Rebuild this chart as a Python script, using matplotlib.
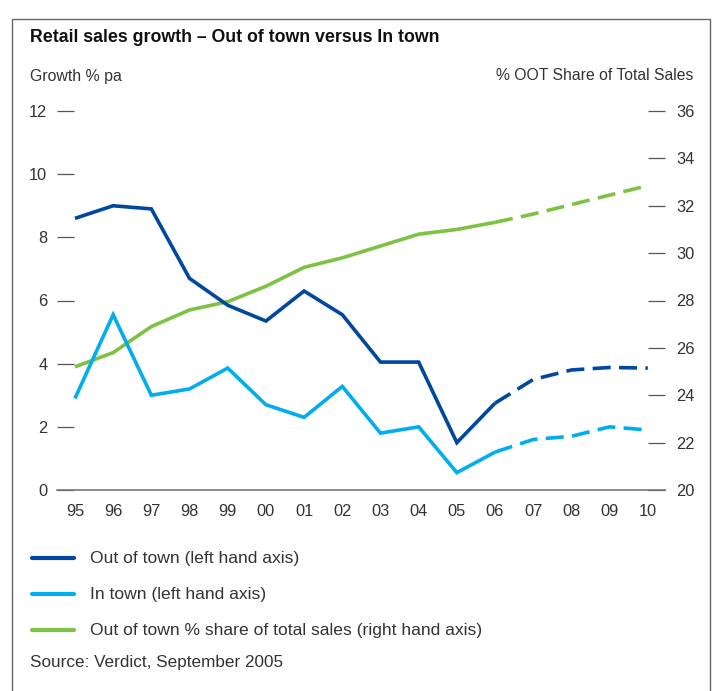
import matplotlib
matplotlib.use("Agg")
import matplotlib.pyplot as plt
from matplotlib.lines import Line2D
from matplotlib.patches import Rectangle

years = ["95", "96", "97", "98", "99", "00", "01", "02", "03", "04", "05", "06", "07", "08", "09", "10"]
out_of_town = [8.6, 9.0, 8.9, 6.7, 5.85, 5.35, 6.3, 5.55, 4.05, 4.05, 1.5, 2.75, 3.5, 3.8, 3.88, 3.86]
in_town = [2.9, 5.55, 3.0, 3.2, 3.86, 2.7, 2.3, 3.28, 1.8, 2.0, 0.55, 1.2, 1.6, 1.7, 2.0, 1.9]
oot_share = [25.2, 25.8, 26.9, 27.6, 27.95, 28.6, 29.4, 29.8, 30.3, 30.8, 31.0, 31.3, 31.65, 32.05, 32.45, 32.85]
forecast_start = 11  # index of '06' where projections begin

left_ticks = [0, 2, 4, 6, 8, 10, 12]
right_ticks = [20, 22, 24, 26, 28, 30, 32, 34, 36]

DARK = "#0047A0"
LIGHT = "#00AEEF"
GREEN = "#7DC242"
TXT = "#333333"
GRAY = "#555555"

plt.rcParams['font.family'] = ['Liberation Sans', 'DejaVu Sans']
plt.rcParams['lines.scale_dashes'] = False

fig = plt.figure(figsize=(7.15, 6.91), dpi=100)
W, H = 715, 691
ax = fig.add_axes([57 / W, 1 - 490 / H, (665 - 57) / W, (490 - 111) / H])
ax2 = ax.twinx()

x = list(range(len(years)))
LW = 2.6
dash = (0, (13, 6))

def draw(a, vals, color):
    a.plot(x[:forecast_start + 1], vals[:forecast_start + 1], color=color, lw=LW,
           solid_joinstyle='miter', solid_capstyle='butt')
    a.plot(x[forecast_start:], vals[forecast_start:], color=color, lw=LW,
           linestyle=dash, dash_capstyle='butt')

draw(ax2, oot_share, GREEN)
draw(ax, out_of_town, DARK)
draw(ax, in_town, LIGHT)
ax.set_zorder(ax2.get_zorder() + 1)
ax.patch.set_visible(False)

ax.set_xlim(-0.47, 15.45)
ax.set_ylim(0, 12)
ax2.set_ylim(20, 36)

ax.set_xticks(x)
ax.set_xticklabels(years)
ax.set_yticks(left_ticks)
ax.set_yticklabels([str(t) for t in left_ticks])
ax2.set_yticks(right_ticks)
ax2.set_yticklabels([str(t) for t in right_ticks])

for a in (ax, ax2):
    for s in a.spines.values():
        s.set_visible(False)
ax.spines['bottom'].set_visible(True)
ax.spines['bottom'].set_color("#777777")
ax.spines['bottom'].set_linewidth(1.2)

ax.tick_params(axis='x', length=0, pad=10, labelsize=11.8, labelcolor=TXT)
ax.tick_params(axis='y', direction='in', length=12, width=0.9, color=GRAY,
               pad=7, labelsize=11.8, labelcolor=TXT)
ax2.tick_params(axis='y', direction='in', length=12, width=0.9, color=GRAY,
                pad=8, labelsize=11.8, labelcolor=TXT)

# Texts
fig.text(30 / W, 1 - 37 / H, "Retail sales growth \u2013 Out of town versus In town",
         fontsize=12.8, fontweight='bold', color="#111111", ha='left', va='center')
fig.text(30 / W, 1 - 76 / H, "Growth % pa", fontsize=11.4, color=TXT, ha='left', va='center')
fig.text(693 / W, 1 - 76 / H, "% OOT Share of Total Sales", fontsize=11.3, color=TXT,
         ha='right', va='center')

# Legend (manual)
legend_items = [("Out of town (left hand axis)", DARK, 558),
                ("In town (left hand axis)", LIGHT, 594),
                ("Out of town % share of total sales (right hand axis)", GREEN, 630)]
for label, color, yy in legend_items:
    fig.add_artist(Line2D([32 / W, 74 / W], [1 - yy / H, 1 - yy / H], color=color,
                          lw=3, transform=fig.transFigure, solid_capstyle='round'))
    fig.text(90 / W, 1 - yy / H, label, fontsize=12.6, color=TXT, ha='left', va='center')

fig.text(30 / W, 1 - 663 / H, "Source: Verdict, September 2005", fontsize=12.3,
         color=TXT, ha='left', va='center')

# Frame
fig.add_artist(Rectangle((12 / W, -0.05), (710 - 12) / W, 1 - 19 / H + 0.05,
                         transform=fig.transFigure, fill=False, edgecolor="#666666", lw=1.0))

fig.savefig("out.png", dpi=100)
